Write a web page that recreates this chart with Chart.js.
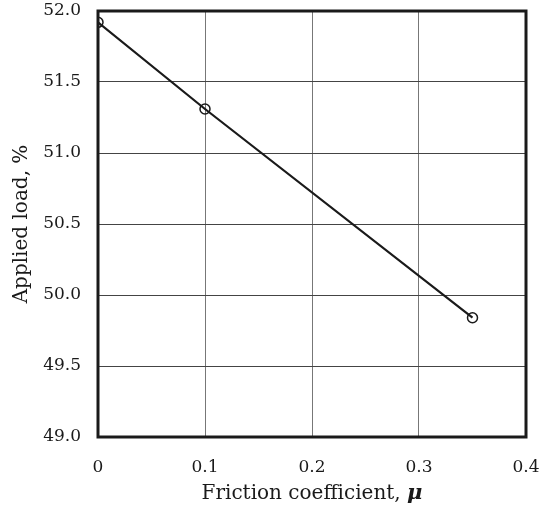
<!DOCTYPE html>
<html>
<head>
<meta charset="utf-8">
<script src="https://cdn.jsdelivr.net/npm/chart.js@4"></script>
<style>
  html, body { margin: 0; padding: 0; background: #fff; }
  #wrap { width: 540px; height: 509px; position: relative; }
</style>
</head>
<body>
<div id="wrap"><canvas id="chart"></canvas></div>
<script>
const friction = [0, 0.1, 0.35];
const appliedLoad = [51.92, 51.31, 49.84];
const xTitle = 'Friction coefficient, ';
const xTitleSymbol = 'μ';
const yTitle = 'Applied load, %';

const serif = '"DejaVu Serif", "Liberation Serif", serif';

// frame around the plot plus axis titles (x title mixes regular text and bold italic mu)
const framePlugin = {
  id: 'frame',
  afterDraw(chart) {
    const { ctx, chartArea: a } = chart;
    ctx.save();
    ctx.strokeStyle = '#1a1a1a';
    ctx.lineWidth = 3;
    ctx.strokeRect(a.left, a.top, a.right - a.left, a.bottom - a.top);

    ctx.fillStyle = '#1a1a1a';
    ctx.textBaseline = 'middle';
    const regular = `20px ${serif}`;
    const bold = `bold italic 21px ${serif}`;
    ctx.font = regular;
    const w1 = ctx.measureText(xTitle).width;
    ctx.font = bold;
    const w2 = ctx.measureText(xTitleSymbol).width;
    const x = (a.left + a.right) / 2 - (w1 + w2) / 2;
    ctx.textAlign = 'left';
    ctx.font = regular;
    ctx.fillText(xTitle, x, a.bottom + 57);
    ctx.font = bold;
    ctx.fillText(xTitleSymbol, x + w1, a.bottom + 57);

    ctx.translate(22, (a.top + a.bottom) / 2);
    ctx.rotate(-Math.PI / 2);
    ctx.textAlign = 'center';
    ctx.font = regular;
    ctx.fillText(yTitle, 0, 0);
    ctx.restore();
  },
};

new Chart(document.getElementById('chart'), {
  type: 'scatter',
  data: {
    datasets: [{
      data: friction.map((f, i) => ({ x: f, y: appliedLoad[i] })),
      showLine: true,
      borderColor: '#1a1a1a',
      borderWidth: 2.2,
      pointRadius: 5,
      pointBorderWidth: 1.5,
      pointBackgroundColor: 'rgba(0,0,0,0)',
      pointBorderColor: '#1a1a1a',
    }],
  },
  options: {
    responsive: true,
    maintainAspectRatio: false,
    animation: false,
    layout: { padding: { top: 11, right: 14, left: 0, bottom: 0 } },
    plugins: { legend: { display: false }, tooltip: { enabled: false } },
    scales: {
      x: {
        type: 'linear',
        min: 0,
        max: 0.4,
        afterFit: (s) => { s.height = 72; s.paddingLeft = 0; s.paddingRight = 0; },
        ticks: {
          stepSize: 0.1,
          padding: 20,
          color: '#1a1a1a',
          font: { family: serif, size: 17 },
          callback: (v) => (v === 0 ? '0' : Number(v).toFixed(1)),
        },
        grid: { color: '#777', lineWidth: 1, drawTicks: false },
        border: { display: false },
      },
      y: {
        min: 49,
        max: 52,
        afterFit: (s) => { s.width = 98; s.paddingTop = 0; s.paddingBottom = 0; },
        ticks: {
          stepSize: 0.5,
          padding: 17,
          color: '#1a1a1a',
          font: { family: serif, size: 17 },
          callback: (v) => Number(v).toFixed(1),
        },
        grid: { color: '#444', lineWidth: 1, drawTicks: false },
        border: { display: false },
      },
    },
  },
  plugins: [framePlugin],
});
</script>
</body>
</html>
